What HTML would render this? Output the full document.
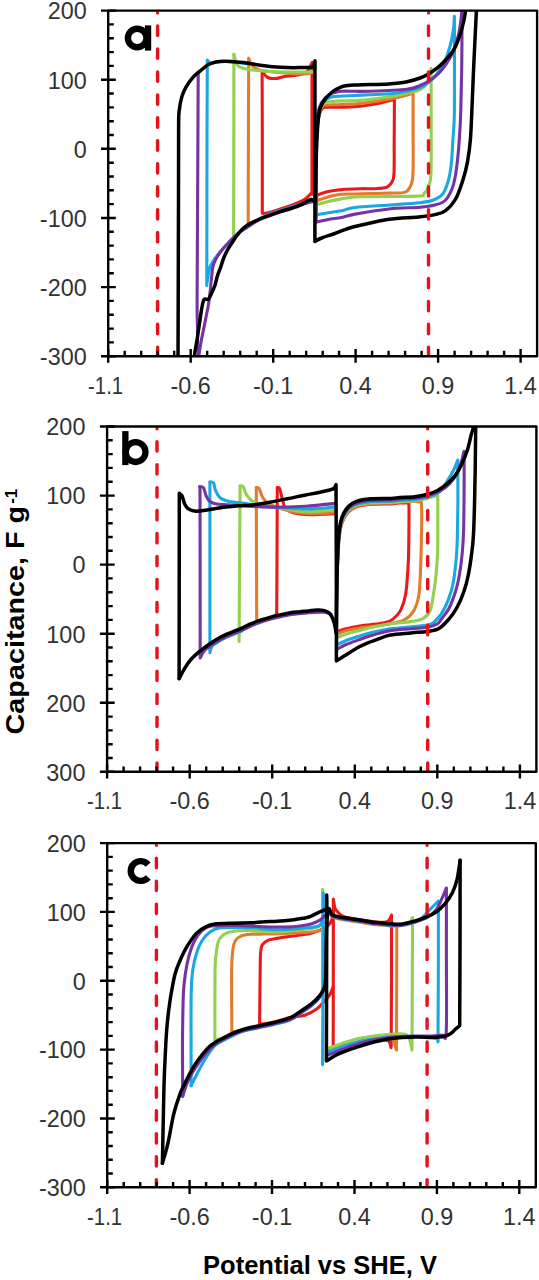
<!DOCTYPE html>
<html><head><meta charset="utf-8"><style>
html,body{margin:0;padding:0;background:#fff;}
svg{display:block;}
.t{font-family:"Liberation Sans",sans-serif;font-size:23.4px;fill:#333;}
.ttl{font-family:"Liberation Sans",sans-serif;font-size:25.5px;font-weight:bold;fill:#000;}
.lab{font-family:"Liberation Sans",sans-serif;font-size:46px;font-weight:bold;fill:#000;}
</style></head><body>
<svg width="539" height="1280" viewBox="0 0 539 1280">
<rect width="539" height="1280" fill="#fff"/>
<defs><clipPath id="cpa"><rect x="108.2" y="10.6" width="428.9" height="345.6"/></clipPath><clipPath id="cpb"><rect x="107.1" y="426.5" width="429.3" height="345.3"/></clipPath><clipPath id="cpc"><rect x="107.2" y="843.1" width="428.6" height="344.2"/></clipPath></defs>
<g clip-path="url(#cpa)">
<path d="M262.1,71.0C262.1,82.5 262.3,116.3 262.3,140.0C262.3,163.7 262.3,201.1 262.3,213.3C263.1,213.2 264.2,213.6 267.0,213.0C269.8,212.4 275.1,210.8 279.1,209.5C283.1,208.2 287.6,206.8 291.2,205.5C294.8,204.2 298.3,202.7 300.8,201.5C303.3,200.3 304.6,199.6 306.0,198.5C307.4,197.4 308.5,196.0 309.5,195.0C310.5,194.0 311.6,192.9 312.0,192.5" fill="none" stroke="#ea1a1a" stroke-width="3.1" stroke-linejoin="round" stroke-linecap="round"/>
<path d="M262.1,71.0C263.0,72.1 265.2,76.3 267.7,77.5C270.2,78.7 274.2,78.6 277.0,78.4C279.8,78.2 280.7,77.1 284.4,76.5C288.1,75.9 295.6,75.4 299.2,74.7C302.8,74.0 304.2,73.8 306.0,72.5C307.8,71.2 309.0,68.7 310.0,67.0C311.0,65.3 311.8,63.2 312.2,62.5C312.2,65.4 312.0,58.1 312.0,80.0C312.0,101.9 312.0,175.2 312.0,194.2" fill="none" stroke="#ea1a1a" stroke-width="3.1" stroke-linejoin="round" stroke-linecap="round"/>
<path d="M316.2,195.5C318.2,194.8 324.0,192.6 328.2,191.6C332.4,190.6 336.2,190.1 341.5,189.6C346.8,189.1 354.4,188.8 360.0,188.7C365.6,188.5 370.4,188.9 374.8,188.7C379.2,188.4 383.9,188.3 386.7,187.2C389.5,186.1 390.7,184.4 391.9,182.0C393.1,179.6 393.6,180.0 394.0,173.0C394.4,166.0 394.1,152.2 394.2,140.0C394.3,127.8 394.4,106.3 394.4,99.6C393.6,99.7 393.0,99.7 389.7,100.4C386.4,101.2 379.8,103.1 374.8,104.1C369.9,105.1 365.6,105.8 360.0,106.3C354.4,106.8 346.8,107.0 341.5,107.2C336.2,107.4 331.4,107.0 328.2,107.2C325.0,107.4 323.8,106.8 322.2,108.6C320.6,110.4 319.4,112.8 318.5,118.0C317.6,123.2 316.9,127.1 316.5,140.0C316.1,152.9 316.2,186.2 316.2,195.5" fill="none" stroke="#ea1a1a" stroke-width="3.1" stroke-linejoin="round" stroke-linecap="round"/>
<path d="M248.7,58.4C248.6,72.0 248.5,112.4 248.4,140.0C248.3,167.6 248.2,210.0 248.2,224.0" fill="none" stroke="#e27c2c" stroke-width="3.1" stroke-linejoin="round" stroke-linecap="round"/>
<path d="M248.7,58.4C249.1,59.3 249.9,62.4 251.0,64.0C252.1,65.6 252.7,66.8 255.0,68.0C257.3,69.2 259.2,70.1 265.0,71.0C270.8,71.9 283.3,73.0 290.0,73.5C296.7,74.0 301.3,74.2 305.0,74.0C308.7,73.8 310.8,72.3 312.0,72.0" fill="none" stroke="#e27c2c" stroke-width="3.1" stroke-linejoin="round" stroke-linecap="round"/>
<path d="M316.2,200.8C318.2,200.2 324.0,198.0 328.2,196.9C332.4,195.8 336.2,194.7 341.5,194.2C346.8,193.7 352.0,194.1 360.0,193.9C368.0,193.7 382.3,193.3 389.7,193.1C397.1,192.8 401.1,193.5 404.5,192.4C407.9,191.3 409.0,189.6 410.4,186.4C411.8,183.2 412.6,182.4 413.0,173.0C413.4,163.6 413.1,143.5 413.1,130.0C413.1,116.5 413.1,98.5 413.1,92.2C412.2,92.7 411.4,93.9 407.5,95.0C403.6,96.1 397.6,97.6 389.7,99.0C381.8,100.4 368.0,102.6 360.0,103.5C352.0,104.4 346.8,104.2 341.5,104.5C336.2,104.8 331.2,104.8 328.0,105.0C324.8,105.2 324.1,103.8 322.5,106.0C320.9,108.2 319.5,112.3 318.5,118.0C317.5,123.7 316.9,126.2 316.5,140.0C316.1,153.8 316.2,190.7 316.2,200.8" fill="none" stroke="#e27c2c" stroke-width="3.1" stroke-linejoin="round" stroke-linecap="round"/>
<path d="M233.9,54.3C233.9,68.6 233.9,109.7 233.8,140.0C233.8,170.3 233.6,220.0 233.6,236.0" fill="none" stroke="#92d050" stroke-width="3.1" stroke-linejoin="round" stroke-linecap="round"/>
<path d="M233.9,54.3C234.2,55.6 235.2,60.0 236.0,62.0C236.8,64.0 237.2,65.2 238.5,66.3C239.8,67.4 241.6,67.9 244.0,68.5C246.4,69.1 246.7,69.4 252.8,70.0C258.9,70.6 270.8,71.6 280.7,71.9C290.6,72.2 306.9,71.9 312.2,71.9" fill="none" stroke="#92d050" stroke-width="3.1" stroke-linejoin="round" stroke-linecap="round"/>
<path d="M316.2,204.8C318.2,204.2 324.0,202.5 328.2,201.5C332.4,200.5 336.2,199.7 341.5,198.9C346.8,198.1 347.5,197.3 360.0,196.8C372.5,196.3 405.8,196.6 416.4,196.1C427.0,195.6 421.7,195.8 423.8,193.9C425.9,192.1 427.8,188.5 429.0,185.0C430.2,181.5 430.6,182.2 431.0,173.0C431.4,163.8 431.2,147.5 431.2,130.0C431.2,112.5 431.1,78.5 431.1,68.2C430.8,69.8 430.5,75.0 429.5,78.0C428.5,81.0 426.9,83.9 425.0,86.0C423.1,88.1 420.9,89.3 418.0,90.5C415.1,91.7 412.2,92.0 407.5,93.0C402.8,94.0 397.6,95.5 389.7,96.7C381.8,97.9 369.1,99.7 360.0,100.4C350.9,101.2 340.9,100.6 334.8,101.2C328.7,101.8 326.3,101.1 323.6,103.9C320.9,106.7 319.7,112.0 318.5,118.0C317.3,124.0 316.9,125.5 316.5,140.0C316.1,154.5 316.2,194.0 316.2,204.8" fill="none" stroke="#92d050" stroke-width="3.1" stroke-linejoin="round" stroke-linecap="round"/>
<path d="M207.3,60.2C207.2,73.5 207.1,105.0 207.0,140.0C206.9,175.0 206.9,245.9 206.8,270.0C206.8,294.1 206.7,282.2 206.7,284.6C207.2,281.9 208.5,272.3 209.5,268.5C210.5,264.7 211.6,263.8 212.8,261.8C214.0,259.8 215.1,258.3 216.5,256.5C217.9,254.7 219.0,253.2 221.0,251.0C223.0,248.8 225.6,245.9 228.4,243.0C231.2,240.1 234.3,236.5 237.9,233.6C241.5,230.7 246.0,228.0 250.0,225.3C254.0,222.6 257.0,220.0 262.0,217.5C267.0,215.0 273.7,212.7 280.0,210.5C286.3,208.3 294.7,206.1 300.0,204.5C305.3,202.9 310.0,201.6 312.0,201.0" fill="none" stroke="#1aa8e2" stroke-width="3.1" stroke-linejoin="round" stroke-linecap="round"/>
<path d="M207.3,60.2C207.8,60.7 208.7,62.6 210.0,63.0C211.3,63.4 212.5,62.8 215.0,62.5C217.5,62.2 219.3,61.0 225.0,61.3C230.7,61.5 245.0,63.5 249.0,64.0" fill="none" stroke="#1aa8e2" stroke-width="3.1" stroke-linejoin="round" stroke-linecap="round"/>
<path d="M316.2,214.8C318.2,214.5 324.0,213.5 328.2,212.8C332.4,212.1 337.0,211.7 341.5,210.8C346.0,209.9 346.9,208.5 355.0,207.5C363.1,206.5 379.2,205.8 390.0,205.0C400.8,204.2 413.0,203.4 420.0,202.7C427.0,201.9 428.2,201.8 431.9,200.5C435.6,199.2 439.6,197.8 442.3,194.6C445.0,191.4 446.7,186.1 448.2,181.2C449.7,176.2 450.4,171.8 451.2,164.9C452.0,158.0 452.4,148.8 452.9,139.7C453.4,130.5 454.1,130.6 454.4,110.0C454.6,89.4 454.4,31.9 454.4,16.3C454.2,18.5 454.2,24.5 453.4,29.7C452.6,34.9 451.3,41.8 449.7,47.5C448.1,53.2 446.0,59.2 443.7,63.8C441.4,68.4 438.4,72.0 436.0,75.0C433.6,78.0 432.1,79.6 429.4,81.7C426.7,83.8 423.7,86.0 420.0,87.5C416.3,89.0 411.5,90.0 407.1,91.0C402.7,92.0 399.7,92.9 393.5,93.5C387.3,94.1 376.4,94.4 370.0,94.7C363.6,95.0 361.3,95.2 355.0,95.5C348.7,95.8 337.6,95.7 332.2,96.8C326.8,97.9 325.2,99.4 322.9,101.9C320.6,104.4 319.6,105.7 318.5,112.0C317.4,118.3 316.9,122.9 316.5,140.0C316.1,157.1 316.2,202.3 316.2,214.8" fill="none" stroke="#1aa8e2" stroke-width="3.1" stroke-linejoin="round" stroke-linecap="round"/>
<path d="M198.2,74.0C198.1,95.0 197.8,162.3 197.6,200.0C197.4,237.7 197.1,279.2 197.1,300.0C197.1,320.8 197.3,316.9 197.4,324.7C197.5,332.5 197.6,341.6 197.8,347.0C198.0,352.4 198.5,355.3 198.6,357.0" fill="none" stroke="#7434a4" stroke-width="3.1" stroke-linejoin="round" stroke-linecap="round"/>
<path d="M198.6,357.0C199.1,354.1 200.5,344.9 201.5,339.5C202.5,334.1 203.4,330.3 204.5,324.7C205.6,319.1 207.3,311.1 208.2,306.1C209.1,301.2 209.3,298.1 209.7,295.0C210.1,291.9 210.3,290.5 210.6,287.4C210.9,284.3 211.3,279.5 211.7,276.2C212.1,272.9 212.2,270.1 212.8,267.3C213.5,264.5 214.3,262.1 215.6,259.5C216.9,256.9 218.5,254.5 220.6,251.7C222.7,248.9 225.5,245.9 228.4,242.8C231.3,239.8 234.3,236.3 237.9,233.4C241.5,230.5 246.0,228.1 250.0,225.5C254.0,222.9 257.0,220.4 262.0,218.0C267.0,215.6 273.7,213.4 280.0,211.3C286.3,209.2 294.7,206.9 300.0,205.3C305.3,203.7 310.0,202.1 312.0,201.5" fill="none" stroke="#7434a4" stroke-width="3.1" stroke-linejoin="round" stroke-linecap="round"/>
<path d="M316.2,222.1C318.2,221.7 324.0,220.2 328.2,219.4C332.4,218.6 337.0,218.4 341.5,217.5C346.0,216.6 347.1,215.5 355.0,214.1C362.9,212.7 378.2,210.2 389.0,209.0C399.8,207.8 412.4,207.9 420.0,207.2C427.6,206.5 430.6,206.1 434.8,205.0C439.0,203.9 442.2,203.5 445.2,200.5C448.2,197.5 450.7,192.4 452.6,187.2C454.5,182.0 455.3,177.2 456.4,169.3C457.5,161.4 458.6,149.6 459.3,139.7C460.0,129.8 460.4,123.3 460.8,110.0C461.2,96.7 461.6,77.5 461.8,60.0C462.0,42.5 462.0,14.2 462.0,5.0" fill="none" stroke="#7434a4" stroke-width="3.1" stroke-linejoin="round" stroke-linecap="round"/>
<path d="M462.5,0.0C462.3,2.5 462.0,10.0 461.5,15.0C461.0,20.0 460.3,25.5 459.5,30.0C458.7,34.5 457.6,38.2 456.5,42.0C455.4,45.8 454.3,49.3 452.6,53.0C450.9,56.7 448.4,60.7 446.1,64.1C443.8,67.5 441.4,70.6 438.6,73.4C435.8,76.2 432.5,78.8 429.4,80.8C426.3,82.8 423.8,84.1 420.1,85.5C416.4,86.9 415.5,88.2 407.1,89.2C398.8,90.2 378.7,90.9 370.0,91.2C361.3,91.5 359.8,91.3 355.0,91.3C350.2,91.3 345.8,90.8 341.5,91.3C337.2,91.8 332.8,92.7 329.5,94.6C326.2,96.5 323.5,99.5 321.6,102.6C319.7,105.7 318.9,106.8 318.0,113.0C317.1,119.2 316.8,121.8 316.5,140.0C316.2,158.2 316.2,208.4 316.2,222.1" fill="none" stroke="#7434a4" stroke-width="3.1" stroke-linejoin="round" stroke-linecap="round"/>
<path d="M178.0,362.0C178.0,351.7 178.1,327.0 178.2,300.0C178.3,273.0 178.4,228.3 178.5,200.0C178.6,171.7 178.5,144.8 178.6,130.0C178.7,115.2 178.5,116.8 179.1,111.2C179.7,105.6 180.8,100.4 181.9,96.4C183.1,92.4 184.2,90.2 186.0,87.1C187.8,84.0 190.0,80.6 192.5,77.8C195.0,75.0 198.2,72.6 200.8,70.4C203.4,68.2 205.7,66.2 208.2,64.8C210.7,63.4 212.9,62.6 215.7,62.0C218.5,61.4 221.9,61.2 225.0,61.2C228.1,61.2 231.1,61.6 234.2,61.8C237.3,62.0 238.9,62.0 243.6,62.6C248.2,63.2 255.9,64.6 262.1,65.4C268.3,66.2 274.5,66.9 280.7,67.3C286.9,67.7 293.9,67.7 299.2,67.6C304.4,67.5 309.6,68.0 312.2,66.9C314.8,65.8 314.5,61.8 315.0,60.8C315.0,75.7 314.9,119.9 314.9,150.0C314.9,180.1 314.9,226.2 314.9,241.4C316.0,240.8 318.3,239.3 321.6,238.0C324.9,236.7 330.4,235.1 334.8,233.5C339.2,231.9 344.0,229.8 348.1,228.5C352.2,227.2 352.5,227.0 359.3,225.5C366.1,224.0 379.1,220.7 389.0,219.3C398.9,217.9 411.1,217.8 418.7,217.0C426.3,216.2 430.4,215.6 434.8,214.6C439.2,213.6 441.7,213.5 445.2,210.9C448.7,208.3 452.6,204.2 455.6,199.0C458.6,193.8 461.0,185.9 463.0,179.7C465.0,173.5 466.3,168.6 467.5,161.9C468.7,155.2 469.7,148.3 470.4,139.7C471.1,131.0 471.3,123.3 471.9,110.0C472.5,96.7 473.2,76.5 474.0,60.0C474.8,43.5 475.9,21.0 476.4,11.0C476.9,1.0 476.9,1.8 477.0,0.0" fill="none" stroke="#000000" stroke-width="3.5" stroke-linejoin="round" stroke-linecap="round"/>
<path d="M465.8,0.0C465.8,1.8 465.8,7.3 465.5,10.6C465.2,13.9 464.7,16.8 464.0,20.0C463.3,23.2 462.5,26.6 461.5,30.0C460.5,33.4 459.3,37.1 458.0,40.5C456.7,43.9 455.5,47.1 453.5,50.3C451.5,53.5 448.6,56.7 446.1,59.5C443.6,62.3 441.4,64.6 438.6,66.9C435.8,69.2 432.5,71.6 429.4,73.4C426.3,75.2 423.8,76.6 420.1,78.0C416.4,79.4 412.4,80.7 407.1,81.7C401.9,82.7 394.8,83.5 388.6,84.0C382.4,84.5 375.4,84.3 370.0,84.5C364.6,84.7 360.0,84.7 356.4,84.9C352.8,85.1 350.8,85.1 348.1,85.5C345.4,85.9 342.9,86.2 340.2,87.3C337.5,88.4 334.6,90.1 332.2,92.0C329.8,93.9 327.4,96.2 325.5,98.6C323.6,101.0 322.1,103.1 320.9,106.6C319.7,110.1 319.0,111.0 318.2,119.8C317.4,128.7 316.6,146.0 316.2,159.7C315.8,173.4 315.6,194.9 315.5,202.0C315.3,202.0 314.7,202.3 314.1,201.9C313.5,201.5 312.7,199.7 311.7,199.5C310.7,199.3 309.9,199.8 308.1,200.7C306.3,201.6 303.6,203.6 300.8,204.9C298.0,206.2 294.8,207.3 291.2,208.5C287.6,209.7 283.1,210.8 279.1,212.1C275.1,213.4 271.1,214.9 267.1,216.4C263.1,217.9 258.3,219.7 255.0,221.2C251.7,222.7 249.5,223.8 247.3,225.2C245.1,226.6 243.4,228.2 241.8,229.8C240.2,231.4 239.0,232.9 237.5,234.8C236.0,236.8 234.4,239.2 232.9,241.5C231.4,243.8 229.9,245.8 228.4,248.4C226.9,251.0 225.3,254.2 224.0,257.3C222.7,260.4 221.7,264.2 220.6,267.3C219.5,270.4 218.2,273.2 217.3,276.2C216.4,279.2 215.9,282.4 215.0,285.2C214.1,288.0 212.8,290.6 211.7,293.0C210.6,295.4 209.4,298.3 208.2,299.3C207.0,300.3 205.4,298.5 204.5,299.0C203.6,299.5 203.5,300.6 203.0,302.4C202.5,304.2 202.1,306.1 201.5,309.8C200.9,313.5 200.0,319.8 199.3,324.7C198.6,329.6 197.8,334.8 197.1,339.5C196.3,344.2 195.3,349.1 194.8,352.9C194.3,356.6 194.3,360.5 194.2,362.0" fill="none" stroke="#000000" stroke-width="3.5" stroke-linejoin="round" stroke-linecap="round"/>
</g>
<g clip-path="url(#cpb)">
<path d="M277.3,487.6C277.2,499.7 277.1,538.9 277.0,560.0C276.9,581.1 276.8,605.4 276.7,614.5" fill="none" stroke="#ea1a1a" stroke-width="3.1" stroke-linejoin="round" stroke-linecap="round"/>
<path d="M277.3,487.6C277.7,487.8 278.8,486.6 279.7,488.6C280.6,490.6 281.3,496.1 282.5,499.7C283.7,503.2 283.2,507.4 287.1,509.9C291.0,512.4 297.7,513.9 305.7,514.5C313.7,515.1 330.1,513.8 335.0,513.6" fill="none" stroke="#ea1a1a" stroke-width="3.1" stroke-linejoin="round" stroke-linecap="round"/>
<path d="M336.6,632.0C338.0,631.5 341.1,630.0 345.0,629.0C348.9,628.0 355.5,626.7 359.7,626.0C363.9,625.3 365.9,625.2 370.0,624.7C374.1,624.2 380.6,623.6 384.3,622.7C388.0,621.9 389.7,621.7 392.4,619.6C395.1,617.5 398.4,614.6 400.6,610.4C402.8,606.1 404.4,602.5 405.7,594.1C407.0,585.7 407.8,572.4 408.4,560.0C408.9,547.6 408.9,529.5 409.0,520.0C409.1,510.5 408.9,505.8 408.9,503.0C407.4,503.0 402.9,502.8 400.0,502.9C397.1,503.0 396.1,503.7 391.2,503.9C386.3,504.1 376.6,503.8 370.8,504.3C365.0,504.8 360.2,505.6 356.5,506.9C352.8,508.2 350.8,509.4 348.4,512.0C346.0,514.5 343.7,518.1 342.2,522.2C340.7,526.3 340.0,529.3 339.2,536.5C338.4,543.7 337.9,554.0 337.5,565.5C337.1,577.0 336.8,594.4 336.6,605.5C336.5,616.6 336.6,627.6 336.6,632.0" fill="none" stroke="#ea1a1a" stroke-width="3.1" stroke-linejoin="round" stroke-linecap="round"/>
<path d="M256.3,487.6C256.3,499.7 256.4,538.0 256.5,560.0C256.6,582.0 256.7,609.6 256.7,619.5" fill="none" stroke="#e27c2c" stroke-width="3.1" stroke-linejoin="round" stroke-linecap="round"/>
<path d="M256.3,487.6C256.8,487.8 258.0,486.9 259.1,488.6C260.2,490.3 261.3,495.3 262.8,497.8C264.3,500.3 265.4,501.6 268.3,503.4C271.2,505.2 273.8,506.8 280.0,508.5C286.2,510.2 296.5,512.8 305.7,513.5C314.9,514.2 330.1,512.7 335.0,512.5" fill="none" stroke="#e27c2c" stroke-width="3.1" stroke-linejoin="round" stroke-linecap="round"/>
<path d="M336.6,634.5C338.0,633.9 341.1,632.1 345.0,631.0C348.9,629.9 355.5,628.7 359.7,628.0C363.9,627.3 364.9,627.4 370.0,626.7C375.1,626.0 384.6,624.9 390.4,623.7C396.2,622.5 400.8,621.8 404.7,619.6C408.6,617.4 411.5,614.6 413.9,610.4C416.3,606.1 417.8,602.5 419.0,594.1C420.2,585.7 420.4,572.4 420.9,560.0C421.3,547.6 421.6,529.6 421.7,520.0C421.8,510.4 421.5,505.5 421.5,502.6C420.4,502.4 418.4,501.6 414.8,501.5C411.2,501.4 403.9,501.9 400.0,502.2C396.1,502.5 396.1,503.0 391.2,503.2C386.3,503.4 376.6,503.1 370.8,503.6C365.0,504.1 360.2,504.9 356.5,506.2C352.8,507.5 350.8,508.8 348.4,511.3C346.0,513.9 343.7,517.4 342.2,521.5C340.7,525.6 340.0,528.6 339.2,535.8C338.4,543.0 337.9,553.3 337.5,564.8C337.1,576.3 336.8,593.2 336.6,604.8C336.5,616.4 336.6,629.5 336.6,634.5" fill="none" stroke="#e27c2c" stroke-width="3.1" stroke-linejoin="round" stroke-linecap="round"/>
<path d="M240.1,485.8C240.0,498.2 239.8,534.0 239.6,560.0C239.4,586.0 239.2,627.9 239.1,641.5" fill="none" stroke="#92d050" stroke-width="3.1" stroke-linejoin="round" stroke-linecap="round"/>
<path d="M240.1,485.8C240.6,485.9 242.3,485.3 243.3,486.7C244.3,488.1 244.7,491.8 246.1,494.1C247.5,496.4 248.9,498.9 251.6,500.6C254.2,502.3 257.3,503.3 262.0,504.5C266.7,505.7 272.7,506.8 280.0,508.0C287.3,509.2 296.5,511.4 305.7,511.7C314.9,512.0 330.1,510.2 335.0,509.9" fill="none" stroke="#92d050" stroke-width="3.1" stroke-linejoin="round" stroke-linecap="round"/>
<path d="M336.6,638.0C338.0,637.4 341.1,635.8 345.0,634.5C348.9,633.2 355.5,631.6 359.7,630.5C363.9,629.4 364.9,628.9 370.0,627.8C375.1,626.7 383.6,624.7 390.4,623.7C397.2,622.7 405.4,622.5 410.8,621.6C416.2,620.8 419.9,620.5 423.1,618.6C426.3,616.7 428.4,615.0 430.2,610.4C432.0,605.8 432.9,597.2 433.9,591.2C434.9,585.2 435.5,581.0 436.1,574.5C436.7,568.0 437.3,559.7 437.6,552.3C437.9,544.9 437.8,539.5 437.8,530.0C437.8,520.5 437.8,501.0 437.8,495.2C435.9,495.8 430.5,497.6 426.7,498.5C422.9,499.4 419.2,500.2 414.8,500.7C410.4,501.2 403.9,501.1 400.0,501.4C396.1,501.7 396.1,502.2 391.2,502.4C386.3,502.6 376.6,502.3 370.8,502.8C365.0,503.3 360.2,504.1 356.5,505.4C352.8,506.7 350.8,507.9 348.4,510.5C346.0,513.0 343.7,516.6 342.2,520.7C340.7,524.8 340.0,527.8 339.2,535.0C338.4,542.2 337.9,552.5 337.5,564.0C337.1,575.5 336.8,591.7 336.6,604.0C336.5,616.3 336.6,632.3 336.6,638.0" fill="none" stroke="#92d050" stroke-width="3.1" stroke-linejoin="round" stroke-linecap="round"/>
<path d="M209.9,482.1C209.9,495.1 209.9,531.6 209.9,560.0C209.9,588.4 209.9,637.2 209.9,652.7C210.3,651.6 210.5,648.0 212.1,646.0C213.7,644.0 217.0,642.5 219.5,641.0C222.0,639.5 224.4,638.2 226.9,637.0C229.4,635.8 231.8,635.0 234.3,634.0C236.8,633.0 240.6,631.5 241.8,631.0" fill="none" stroke="#1aa8e2" stroke-width="3.1" stroke-linejoin="round" stroke-linecap="round"/>
<path d="M209.9,482.1C210.5,482.2 212.7,481.6 213.6,483.0C214.5,484.4 214.4,487.9 215.5,490.4C216.6,492.9 217.8,495.9 220.1,497.8C222.4,499.7 225.4,500.6 229.4,501.5C233.4,502.4 238.6,502.6 244.2,503.4C249.8,504.1 252.6,505.1 262.8,506.0C273.1,506.9 293.7,508.8 305.7,509.0C317.7,509.2 330.1,507.3 335.0,507.0" fill="none" stroke="#1aa8e2" stroke-width="3.1" stroke-linejoin="round" stroke-linecap="round"/>
<path d="M336.6,645.0C338.0,644.3 341.1,642.5 345.0,641.0C348.9,639.5 355.5,637.4 359.7,636.0C363.9,634.6 364.9,634.1 370.0,632.9C375.1,631.7 380.9,630.1 390.4,628.8C399.9,627.5 419.4,626.5 427.1,625.0C434.8,623.5 433.8,622.2 436.7,619.5C439.6,616.8 442.1,613.2 444.5,608.5C446.9,603.8 449.5,596.9 451.2,591.2C452.9,585.5 453.6,581.0 454.5,574.5C455.4,568.0 456.2,559.7 456.7,552.3C457.2,544.9 457.3,538.7 457.5,530.0C457.7,521.3 457.8,511.6 457.9,500.0C457.9,488.4 457.8,466.8 457.8,460.1C457.2,461.6 455.8,465.6 454.1,469.0C452.4,472.4 449.8,477.1 447.4,480.8C445.0,484.6 443.4,488.8 440.0,491.5C436.6,494.2 430.9,496.0 426.7,497.3C422.5,498.6 419.2,499.0 414.8,499.5C410.4,500.0 403.9,499.9 400.0,500.2C396.1,500.5 396.1,501.0 391.2,501.2C386.3,501.4 376.6,501.1 370.8,501.6C365.0,502.1 360.2,502.9 356.5,504.2C352.8,505.5 350.8,506.8 348.4,509.3C346.0,511.9 343.7,515.4 342.2,519.5C340.7,523.6 340.0,526.6 339.2,533.8C338.4,541.0 337.9,551.3 337.5,562.8C337.1,574.3 336.8,589.1 336.6,602.8C336.5,616.5 336.6,638.0 336.6,645.0" fill="none" stroke="#1aa8e2" stroke-width="3.1" stroke-linejoin="round" stroke-linecap="round"/>
<path d="M200.0,486.7C200.0,498.9 200.1,531.5 200.1,560.0C200.1,588.5 200.2,641.6 200.2,657.9C200.9,656.6 202.7,652.5 204.7,650.3C206.7,648.1 209.6,646.5 212.1,644.8C214.6,643.1 217.0,641.6 219.5,640.2C222.0,638.8 224.4,637.5 226.9,636.4C229.4,635.3 231.8,634.4 234.3,633.4C236.8,632.4 237.8,632.1 241.8,630.4C245.8,628.7 252.8,625.1 258.3,623.0C263.8,620.9 269.4,619.4 275.0,618.0C280.6,616.6 286.1,615.4 291.7,614.5C297.3,613.6 303.1,613.2 308.4,612.8C313.7,612.4 319.7,612.1 323.5,612.3C327.3,612.5 329.8,613.7 331.0,614.0" fill="none" stroke="#7434a4" stroke-width="3.1" stroke-linejoin="round" stroke-linecap="round"/>
<path d="M199.7,486.7C200.3,486.9 202.3,486.1 203.4,487.6C204.5,489.2 205.1,493.7 206.2,496.0C207.3,498.3 207.9,500.1 209.9,501.5C211.9,502.9 214.0,503.7 218.2,504.3C222.4,504.9 226.6,504.8 234.9,505.3C243.2,505.8 256.5,507.0 268.3,507.1C280.1,507.2 294.6,506.8 305.7,506.2C316.8,505.6 330.1,503.9 335.0,503.4" fill="none" stroke="#7434a4" stroke-width="3.1" stroke-linejoin="round" stroke-linecap="round"/>
<path d="M336.6,649.5C338.0,648.8 341.1,646.7 345.0,645.0C348.9,643.3 355.5,641.0 359.7,639.5C363.9,638.0 364.9,637.4 370.0,635.9C375.1,634.4 383.6,632.0 390.4,630.8C397.2,629.6 404.7,629.4 410.8,628.8C416.9,628.2 422.7,628.1 427.1,627.3C431.5,626.5 435.0,625.3 437.3,624.0C439.6,622.7 439.2,622.1 441.1,619.5C443.0,616.9 446.5,613.2 448.9,608.5C451.3,603.8 453.8,596.9 455.6,591.2C457.4,585.5 458.4,581.0 459.5,574.5C460.6,568.0 461.6,559.7 462.3,552.3C463.0,544.9 463.3,540.4 463.6,530.0C463.9,519.6 464.0,503.1 464.1,490.0C464.2,476.9 464.1,457.7 464.1,451.2C463.2,454.4 461.0,465.0 458.6,470.4C456.2,475.8 452.8,480.4 449.7,483.8C446.6,487.2 443.8,488.9 440.0,491.0C436.2,493.1 430.9,494.9 426.7,496.1C422.5,497.3 419.2,497.8 414.8,498.3C410.4,498.8 403.9,498.7 400.0,499.0C396.1,499.3 396.1,499.8 391.2,500.0C386.3,500.2 376.6,499.9 370.8,500.4C365.0,500.9 360.2,501.7 356.5,503.0C352.8,504.3 350.8,505.6 348.4,508.1C346.0,510.7 343.7,514.2 342.2,518.3C340.7,522.4 340.0,525.4 339.2,532.6C338.4,539.8 337.9,550.1 337.5,561.6C337.1,573.1 336.8,587.0 336.6,601.6C336.5,616.2 336.6,641.5 336.6,649.5" fill="none" stroke="#7434a4" stroke-width="3.1" stroke-linejoin="round" stroke-linecap="round"/>
<path d="M179.1,678.5C179.1,665.4 179.2,630.9 179.2,600.0C179.2,569.1 179.3,511.0 179.3,493.2C179.8,493.7 181.2,494.1 182.1,496.0C183.0,497.9 183.7,502.1 184.8,504.3C185.9,506.5 186.7,507.9 188.6,509.0C190.5,510.1 192.9,511.1 196.0,511.2C199.1,511.3 202.2,510.6 207.1,509.9C212.0,509.2 219.5,507.8 225.7,507.1C231.9,506.4 240.1,505.9 244.2,505.6C248.2,505.3 245.9,505.8 250.0,505.3C254.1,504.8 262.4,503.6 268.6,502.5C274.8,501.4 280.9,500.1 287.1,498.8C293.3,497.6 299.5,496.2 305.7,495.0C311.9,493.8 319.6,492.4 324.2,491.3C328.8,490.2 331.5,489.7 333.5,488.6C335.5,487.5 335.6,485.3 336.0,484.6C336.1,497.2 336.2,530.6 336.3,560.0C336.4,589.4 336.4,644.1 336.4,660.9C337.8,660.0 340.7,658.1 344.5,655.7C348.3,653.4 355.1,649.1 359.3,646.8C363.6,644.5 366.5,643.4 370.0,642.0C373.5,640.6 376.8,639.5 380.2,638.3C383.6,637.1 385.3,635.9 390.4,635.0C395.5,634.1 404.7,633.5 410.8,632.9C416.9,632.3 422.4,632.2 427.1,631.5C431.8,630.8 435.3,630.7 438.9,628.6C442.5,626.5 445.9,622.5 448.9,619.1C451.9,615.7 454.2,612.6 456.7,608.0C459.2,603.4 462.1,596.8 464.0,591.2C465.9,585.6 467.1,581.0 468.4,574.5C469.7,568.0 470.9,559.7 471.8,552.3C472.7,544.9 473.1,543.7 473.7,530.0C474.3,516.3 474.9,487.2 475.2,470.0C475.5,452.8 475.6,436.2 475.7,427.0C475.8,417.8 475.9,417.0 476.0,415.0" fill="none" stroke="#000000" stroke-width="3.5" stroke-linejoin="round" stroke-linecap="round"/>
<path d="M474.0,415.0C473.9,417.0 473.9,423.7 473.4,427.0C472.9,430.3 472.2,431.0 471.2,434.8C470.2,438.6 469.1,444.8 467.5,449.7C465.9,454.6 463.6,460.1 461.5,464.5C459.4,468.9 457.2,472.8 454.9,475.9C452.6,479.0 450.5,480.9 447.5,483.4C444.5,485.9 440.6,488.9 437.1,490.8C433.6,492.7 430.4,493.5 426.7,494.5C423.0,495.5 419.2,496.2 414.8,496.7C410.4,497.2 403.9,497.1 400.0,497.4C396.1,497.7 396.1,498.2 391.2,498.4C386.3,498.6 376.6,498.3 370.8,498.8C365.0,499.3 360.2,500.1 356.5,501.4C352.8,502.7 350.8,503.9 348.4,506.5C346.0,509.1 343.7,512.6 342.2,516.7C340.7,520.8 340.0,523.8 339.2,531.0C338.4,538.2 337.9,548.5 337.5,560.0C337.1,571.5 336.8,587.8 336.6,600.0C336.4,612.2 336.3,627.8 336.2,633.4C335.9,631.7 335.0,626.2 334.3,623.4C333.6,620.6 332.8,618.5 331.8,616.7C330.8,614.9 329.9,613.5 328.5,612.5C327.1,611.5 325.4,610.8 323.5,610.4C321.6,610.0 319.3,609.9 316.8,610.0C314.3,610.1 311.2,610.6 308.4,610.9C305.6,611.2 302.9,611.4 300.1,611.7C297.3,612.0 294.5,612.1 291.7,612.5C288.9,612.9 286.2,613.6 283.4,614.2C280.6,614.8 277.8,615.2 275.0,615.9C272.2,616.6 269.5,617.6 266.7,618.4C263.9,619.2 261.1,619.9 258.3,620.9C255.5,621.9 252.8,623.0 250.0,624.2C247.2,625.4 244.4,627.0 241.8,628.2C239.2,629.4 236.8,630.2 234.3,631.2C231.8,632.2 229.4,633.0 226.9,634.1C224.4,635.2 222.0,636.4 219.5,637.8C217.0,639.2 214.6,640.7 212.1,642.3C209.6,643.9 207.2,645.6 204.7,647.5C202.2,649.4 199.8,651.2 197.3,653.4C194.8,655.6 192.0,658.1 189.8,660.8C187.6,663.5 185.7,666.7 183.9,669.7C182.1,672.7 180.0,677.1 179.2,678.6" fill="none" stroke="#000000" stroke-width="3.5" stroke-linejoin="round" stroke-linecap="round"/>
</g>
<g clip-path="url(#cpc)">
<path d="M259.6,1024.5C259.7,1013.8 260.1,972.4 260.3,960.0C260.5,947.6 260.7,952.5 261.0,950.0C261.3,947.5 261.2,946.5 262.3,944.9C263.4,943.3 265.3,941.4 267.8,940.3C270.3,939.2 272.5,939.2 277.1,938.4C281.8,937.6 290.2,936.5 295.7,935.7C301.2,934.9 305.9,934.3 310.0,933.4C314.1,932.5 316.9,931.5 320.0,930.1C323.1,928.7 326.4,926.8 328.4,925.1C330.3,923.4 330.9,922.3 331.7,920.1C332.5,917.9 333.1,915.5 333.4,912.0C333.7,908.5 333.4,901.3 333.4,899.2C333.7,900.7 334.2,906.2 335.0,908.4C335.8,910.6 337.0,911.2 338.4,912.6C339.8,914.0 339.8,915.3 343.4,916.5C347.0,917.7 354.4,918.9 360.0,919.8C365.6,920.7 372.5,921.6 376.8,922.0C381.1,922.4 383.9,922.4 386.0,922.0C388.1,921.6 388.6,920.6 389.5,919.5C390.4,918.4 391.2,915.8 391.5,915.1C391.5,925.9 391.6,959.2 391.5,980.0C391.4,1000.8 391.3,1028.7 391.2,1040.0C391.1,1051.3 391.0,1046.3 391.0,1047.6C390.5,1046.4 390.6,1041.6 388.0,1040.5C385.4,1039.4 380.0,1040.3 375.1,1041.0C370.2,1041.7 364.0,1043.2 358.4,1044.5C352.8,1045.8 345.8,1047.8 341.7,1049.0C337.6,1050.2 335.3,1051.5 334.0,1052.0" fill="none" stroke="#ea1a1a" stroke-width="3.1" stroke-linejoin="round" stroke-linecap="round"/>
<path d="M333.4,899.2C333.4,912.7 333.3,955.5 333.3,980.0C333.3,1004.5 333.2,1034.9 333.2,1045.9" fill="none" stroke="#ea1a1a" stroke-width="3.1" stroke-linejoin="round" stroke-linecap="round"/>
<path d="M259.6,1024.5C262.0,1024.1 268.8,1023.2 273.9,1022.0C279.0,1020.8 284.9,1018.6 290.0,1017.5C295.1,1016.4 300.4,1016.6 304.8,1015.2C309.2,1013.8 313.5,1011.3 316.7,1009.0C319.9,1006.7 321.9,1004.0 324.1,1001.5C326.3,999.0 328.6,996.6 330.1,994.1C331.6,991.6 332.8,987.9 333.3,986.7" fill="none" stroke="#ea1a1a" stroke-width="3.1" stroke-linejoin="round" stroke-linecap="round"/>
<path d="M231.9,1032.3C231.8,1022.6 231.5,987.6 231.6,974.2C231.7,960.8 232.0,957.5 232.6,951.9C233.2,946.3 233.9,943.4 235.3,940.8C236.7,938.2 238.5,937.3 240.9,936.2C243.3,935.1 246.8,934.6 250.0,934.3C253.2,933.9 255.5,934.2 260.0,934.1C264.5,934.0 268.7,934.1 277.0,933.8C285.3,933.4 302.5,932.6 310.0,932.0C317.5,931.4 320.0,930.3 322.0,930.0" fill="none" stroke="#e27c2c" stroke-width="3.1" stroke-linejoin="round" stroke-linecap="round"/>
<path d="M231.9,1032.3C233.9,1031.9 239.1,1031.0 243.8,1030.0C248.5,1029.0 255.0,1027.6 260.0,1026.5C265.0,1025.4 271.6,1024.0 273.9,1023.5" fill="none" stroke="#e27c2c" stroke-width="3.1" stroke-linejoin="round" stroke-linecap="round"/>
<path d="M328.0,911.0C328.6,911.9 330.5,915.2 331.7,916.4C332.9,917.6 333.1,917.5 335.0,918.1C336.9,918.7 339.2,919.1 343.4,919.8C347.6,920.5 354.5,921.5 360.1,922.3C365.7,923.1 371.8,924.2 376.8,924.8C381.8,925.4 386.8,925.7 390.1,925.9C393.4,926.1 395.7,926.0 396.8,926.0C396.8,935.0 396.8,959.3 396.7,980.0C396.6,1000.7 396.5,1038.4 396.5,1050.1C396.1,1048.8 394.8,1043.8 394.0,1042.0C393.2,1040.2 394.9,1039.5 391.8,1039.0C388.7,1038.5 380.7,1038.3 375.1,1038.8C369.5,1039.3 364.0,1040.5 358.4,1041.8C352.8,1043.1 346.8,1045.0 341.7,1046.5C336.6,1048.0 330.3,1050.2 328.0,1051.0" fill="none" stroke="#e27c2c" stroke-width="3.1" stroke-linejoin="round" stroke-linecap="round"/>
<path d="M214.9,1039.7C214.9,1028.8 214.8,988.2 215.0,974.2C215.2,960.2 215.3,961.3 215.9,955.7C216.5,950.1 217.2,944.4 218.6,940.8C220.0,937.2 221.7,935.9 224.2,934.3C226.7,932.7 229.2,931.8 233.5,931.2C237.8,930.6 242.8,930.5 250.0,930.6C257.2,930.7 267.0,932.4 277.0,932.0C287.0,931.6 302.8,929.4 310.0,928.4C317.2,927.4 317.9,927.3 320.0,925.9C322.1,924.5 322.1,926.1 322.5,920.0C322.9,913.9 322.5,894.3 322.5,889.2L322.6,990.0" fill="none" stroke="#92d050" stroke-width="3.1" stroke-linejoin="round" stroke-linecap="round"/>
<path d="M214.9,1039.7C216.5,1039.4 221.7,1038.8 224.5,1038.0C227.3,1037.2 228.7,1036.2 231.9,1035.0C235.1,1033.8 239.1,1031.8 243.8,1030.5C248.5,1029.2 257.3,1027.6 260.0,1027.0" fill="none" stroke="#92d050" stroke-width="3.1" stroke-linejoin="round" stroke-linecap="round"/>
<path d="M328.0,911.0C328.6,911.8 330.5,914.6 331.7,915.7C332.9,916.8 333.1,916.8 335.0,917.4C336.9,918.0 339.2,918.4 343.4,919.1C347.6,919.8 354.5,920.8 360.1,921.6C365.7,922.4 371.8,923.5 376.8,924.1C381.8,924.7 386.2,924.9 390.1,925.2C394.0,925.5 396.9,926.0 400.0,925.7C403.1,925.4 406.9,924.8 409.0,923.5C411.1,922.2 411.9,918.7 412.5,917.7C412.5,928.1 412.4,957.9 412.3,980.0C412.2,1002.1 412.1,1038.4 412.0,1050.1C411.6,1048.2 410.7,1041.7 409.5,1039.0C408.3,1036.3 407.6,1035.0 404.6,1034.2C401.7,1033.4 396.7,1033.9 391.8,1034.2C386.9,1034.5 380.7,1035.2 375.1,1035.9C369.5,1036.6 364.0,1037.2 358.4,1038.4C352.8,1039.7 346.8,1041.7 341.7,1043.4C336.6,1045.1 330.3,1047.6 328.0,1048.4" fill="none" stroke="#92d050" stroke-width="3.1" stroke-linejoin="round" stroke-linecap="round"/>
<path d="M191.1,1085.7C191.1,1079.8 191.1,1065.5 191.1,1050.0C191.1,1034.5 190.9,1006.0 191.2,992.8C191.5,979.5 191.8,977.0 192.7,970.5C193.6,964.0 194.8,958.8 196.4,953.8C198.0,948.8 199.8,944.3 202.0,940.8C204.2,937.2 206.3,934.7 209.4,932.5C212.5,930.3 213.7,928.6 220.5,927.8C227.3,927.0 240.6,927.5 250.0,927.8C259.4,928.1 267.0,929.8 277.0,929.7C287.0,929.7 302.8,928.3 310.0,927.5C317.2,926.7 317.8,927.1 320.0,925.0C322.2,922.9 322.8,920.3 323.4,915.0C324.0,909.7 323.4,896.7 323.4,893.0C323.4,904.2 323.3,931.4 323.2,960.0C323.1,988.6 322.6,1047.2 322.5,1064.6" fill="none" stroke="#1aa8e2" stroke-width="3.1" stroke-linejoin="round" stroke-linecap="round"/>
<path d="M191.1,1085.7C192.2,1083.5 195.5,1076.8 197.8,1072.3C200.2,1067.8 203.0,1062.7 205.2,1059.0C207.4,1055.3 209.2,1052.5 211.2,1050.0C213.2,1047.5 213.6,1046.3 217.1,1044.0C220.6,1041.7 227.4,1038.2 231.9,1036.0C236.4,1033.8 239.1,1032.4 243.8,1031.0C248.5,1029.6 255.0,1028.6 260.0,1027.5C265.0,1026.4 268.9,1025.8 273.9,1024.5C278.9,1023.2 285.3,1022.0 290.0,1020.0C294.7,1018.0 298.2,1015.0 301.9,1012.5C305.6,1010.0 309.3,1007.5 312.3,1005.0C315.3,1002.5 318.0,1000.0 319.7,997.5C321.4,995.0 322.0,991.2 322.5,990.0" fill="none" stroke="#1aa8e2" stroke-width="3.1" stroke-linejoin="round" stroke-linecap="round"/>
<path d="M328.0,910.0C328.6,910.9 330.5,914.4 331.7,915.6C332.9,916.8 333.1,916.7 335.0,917.3C336.9,917.9 339.2,918.3 343.4,919.0C347.6,919.7 354.5,920.7 360.1,921.5C365.7,922.3 371.8,923.4 376.8,924.0C381.8,924.6 386.2,924.8 390.1,925.1C394.0,925.4 396.1,926.0 400.0,925.6C403.9,925.2 409.7,924.1 413.4,922.8C417.1,921.5 419.2,920.2 422.0,918.0C424.8,915.8 427.4,912.2 430.1,909.4C432.8,906.6 437.0,902.4 438.4,901.0C438.4,914.2 438.4,956.5 438.3,980.0C438.2,1003.5 438.1,1031.5 438.0,1041.8C437.7,1041.2 439.0,1039.4 436.0,1038.5C433.0,1037.6 427.4,1036.8 420.0,1036.5C412.6,1036.2 399.3,1036.4 391.8,1036.8C384.3,1037.2 380.7,1038.0 375.1,1038.8C369.5,1039.6 364.0,1040.3 358.4,1041.7C352.8,1043.1 346.8,1045.3 341.7,1047.0C336.6,1048.7 330.3,1051.2 328.0,1052.0" fill="none" stroke="#1aa8e2" stroke-width="3.1" stroke-linejoin="round" stroke-linecap="round"/>
<path d="M182.7,1096.3C182.7,1090.2 182.5,1071.0 182.5,1060.0C182.5,1049.0 182.4,1041.2 182.6,1030.0C182.8,1018.8 182.9,1002.1 183.4,992.8C183.9,983.5 184.4,980.4 185.3,974.2C186.2,968.0 187.5,961.3 189.0,955.7C190.5,950.1 192.3,945.0 194.5,940.8C196.7,936.6 199.2,933.1 202.0,930.6C204.8,928.1 205.8,926.9 211.2,926.0C216.6,925.1 226.3,925.4 234.2,925.5C242.1,925.6 251.5,926.2 258.6,926.5C265.8,926.8 270.9,927.0 277.1,927.0C283.3,927.0 290.2,927.0 295.7,926.5C301.2,926.0 305.9,925.3 310.0,924.2C314.1,923.1 317.7,921.5 320.0,920.1C322.3,918.7 323.3,916.7 324.0,916.0" fill="none" stroke="#7434a4" stroke-width="3.1" stroke-linejoin="round" stroke-linecap="round"/>
<path d="M182.7,1096.3C183.2,1094.6 184.8,1089.2 186.0,1086.0C187.2,1082.8 188.3,1080.2 190.0,1077.0C191.7,1073.8 193.8,1070.3 196.0,1067.0C198.2,1063.7 200.7,1060.0 203.0,1057.0C205.3,1054.0 207.7,1051.3 210.0,1049.0C212.3,1046.7 213.4,1045.3 217.1,1043.0C220.8,1040.7 227.4,1037.1 231.9,1035.0C236.4,1032.9 239.1,1031.8 243.8,1030.5C248.5,1029.2 252.3,1028.8 260.0,1027.0C267.7,1025.2 283.0,1022.0 290.0,1019.5C297.0,1017.0 298.2,1014.5 301.9,1012.0C305.6,1009.5 309.3,1007.0 312.3,1004.5C315.3,1002.0 317.8,999.6 319.7,997.0C321.6,994.4 323.3,990.3 324.0,989.0" fill="none" stroke="#7434a4" stroke-width="3.1" stroke-linejoin="round" stroke-linecap="round"/>
<path d="M328.0,909.5C328.6,910.5 330.5,914.1 331.7,915.4C332.9,916.7 333.1,916.5 335.0,917.1C336.9,917.7 339.2,918.1 343.4,918.8C347.6,919.5 354.5,920.5 360.1,921.3C365.7,922.1 371.8,923.2 376.8,923.8C381.8,924.4 386.2,924.6 390.1,924.9C394.0,925.2 396.1,925.8 400.0,925.4C403.9,925.0 409.0,923.8 413.4,922.6C417.8,921.4 422.7,920.0 426.4,918.0C430.1,916.0 433.2,913.5 435.7,910.5C438.2,907.5 439.4,903.9 441.2,900.1C443.0,896.4 445.5,890.0 446.4,888.0C446.4,900.0 446.4,936.0 446.4,960.0C446.4,984.0 446.9,1019.8 446.2,1032.3C445.5,1044.8 444.8,1034.4 442.3,1035.0C439.8,1035.6 435.6,1035.8 431.0,1036.0C426.4,1036.2 421.5,1035.8 415.0,1036.0C408.5,1036.2 398.4,1036.6 391.8,1037.2C385.2,1037.8 380.7,1038.4 375.1,1039.5C369.5,1040.6 364.0,1042.0 358.4,1043.7C352.8,1045.4 346.8,1047.7 341.7,1049.6C336.6,1051.5 330.3,1054.1 328.0,1055.0" fill="none" stroke="#7434a4" stroke-width="3.1" stroke-linejoin="round" stroke-linecap="round"/>
<path d="M162.4,1163.3C162.5,1159.2 162.6,1151.5 162.9,1138.6C163.2,1125.7 163.6,1100.5 164.0,1085.7C164.4,1070.9 165.1,1059.3 165.5,1050.0C165.9,1040.7 166.2,1036.4 166.7,1029.9C167.2,1023.5 167.8,1017.5 168.6,1011.3C169.4,1005.1 170.2,999.0 171.3,992.8C172.4,986.6 173.6,979.5 175.0,974.2C176.4,968.9 177.7,965.8 179.7,961.2C181.7,956.6 184.3,951.0 187.1,946.4C189.9,941.8 193.3,936.6 196.4,933.4C199.5,930.1 202.6,928.4 205.7,926.9C208.8,925.4 210.3,924.7 214.9,924.1C219.5,923.5 227.5,923.4 233.5,923.2C239.5,923.0 246.0,923.0 251.1,922.8C256.2,922.6 259.8,922.0 264.1,921.8C268.4,921.5 272.5,921.6 277.1,921.3C281.7,921.0 287.3,920.5 291.9,920.0C296.5,919.5 301.9,918.5 304.9,918.0C307.9,917.5 307.8,917.6 310.0,916.7C312.2,915.8 315.9,913.7 318.3,912.6C320.7,911.5 322.8,910.9 324.2,910.0C325.6,909.1 326.3,910.0 326.7,907.5C327.1,905.0 326.7,897.1 326.7,895.0C326.7,909.2 326.7,952.3 326.6,980.0C326.6,1007.7 326.4,1047.5 326.4,1061.0C327.8,1060.2 331.9,1057.4 334.5,1056.0C337.1,1054.6 337.7,1054.1 341.7,1052.6C345.7,1051.0 352.8,1048.5 358.4,1046.7C364.0,1044.9 369.5,1043.1 375.1,1041.7C380.7,1040.3 385.2,1039.2 391.8,1038.4C398.4,1037.6 408.4,1037.1 415.0,1036.9C421.6,1036.8 426.6,1037.5 431.1,1037.5C435.7,1037.5 439.5,1037.2 442.3,1036.8C445.1,1036.4 446.1,1035.8 447.8,1035.1C449.5,1034.3 451.0,1033.3 452.3,1032.3C453.6,1031.3 454.4,1030.1 455.6,1029.0C456.8,1027.9 459.0,1026.2 459.7,1025.6C459.8,1013.0 459.9,977.6 460.0,950.0C460.1,922.4 460.1,875.2 460.1,860.2" fill="none" stroke="#000000" stroke-width="3.5" stroke-linejoin="round" stroke-linecap="round"/>
<path d="M460.1,860.2C460.1,860.7 460.3,859.8 459.8,863.0C459.3,866.2 458.2,874.8 457.0,879.7C455.8,884.7 454.4,888.7 452.4,892.7C450.4,896.7 447.7,900.5 444.9,903.8C442.1,907.0 438.8,910.0 435.7,912.2C432.6,914.4 430.1,915.3 426.4,916.8C422.7,918.3 417.8,920.2 413.4,921.4C409.0,922.6 403.9,923.8 400.0,924.2C396.1,924.6 394.0,924.0 390.1,923.7C386.2,923.4 381.8,923.2 376.8,922.6C371.8,922.0 365.7,920.9 360.1,920.1C354.5,919.3 347.6,918.3 343.4,917.6C339.2,916.9 336.9,916.5 335.0,915.9C333.1,915.3 332.8,915.3 331.7,914.2C330.6,913.1 329.3,906.6 328.4,909.2C327.5,911.8 327.0,918.6 326.5,930.0C326.0,941.4 326.0,968.1 325.6,977.8C325.2,987.5 325.1,985.2 324.1,988.2C323.1,991.2 321.7,993.1 319.7,995.6C317.7,998.1 315.3,1000.5 312.3,1003.0C309.3,1005.5 305.6,1007.9 301.9,1010.4C298.2,1012.9 294.7,1015.9 290.0,1017.9C285.3,1019.9 278.9,1021.2 273.9,1022.5C268.9,1023.8 265.0,1024.5 260.0,1025.6C255.0,1026.7 248.5,1027.9 243.8,1029.3C239.1,1030.7 235.1,1032.3 231.9,1033.7C228.7,1035.1 227.0,1036.2 224.5,1037.4C222.0,1038.7 219.6,1039.7 217.1,1041.2C214.6,1042.7 212.2,1044.2 209.7,1046.4C207.2,1048.6 204.8,1051.4 202.3,1054.5C199.8,1057.6 197.0,1061.4 194.8,1064.9C192.6,1068.4 190.9,1071.6 188.9,1075.3C186.9,1079.0 184.5,1083.9 183.0,1087.2C181.5,1090.5 181.2,1090.4 179.7,1094.9C178.1,1099.4 175.7,1106.0 173.7,1114.2C171.7,1122.4 169.7,1135.7 167.8,1143.9C165.9,1152.1 163.3,1160.1 162.4,1163.3" fill="none" stroke="#000000" stroke-width="3.5" stroke-linejoin="round" stroke-linecap="round"/>
</g>
<path d="M157.6,12.9V12.9M157.6,26.0V35.4M157.6,49.0V58.3M157.6,71.9V81.3M157.6,94.9V104.2M157.6,117.8V127.2M157.6,140.8V150.2M157.6,163.7V173.1M157.6,186.6V196.1M157.6,209.6V219.0M157.6,232.5V241.9M157.6,255.5V264.9M157.6,278.4V287.8M157.6,301.4V310.8M157.6,324.3V333.7M157.6,347.3V354.5" stroke="#e8101a" stroke-width="3.4" stroke-linecap="round" fill="none"/>
<path d="M428.5,12.9V12.9M428.5,26.0V35.4M428.5,49.0V58.3M428.5,71.9V81.3M428.5,94.9V104.2M428.5,117.8V127.2M428.5,140.8V150.2M428.5,163.7V173.1M428.5,186.6V196.1M428.5,209.6V219.0M428.5,232.5V241.9M428.5,255.5V264.9M428.5,278.4V287.8M428.5,301.4V310.8M428.5,324.3V333.7M428.5,347.3V354.5" stroke="#e8101a" stroke-width="3.4" stroke-linecap="round" fill="none"/>
<path d="M157.0,428.7V428.7M157.0,441.7V451.1M157.0,464.6V474.1M157.0,487.6V497.0M157.0,510.5V519.9M157.0,533.5V542.9M157.0,556.5V565.8M157.0,579.4V588.8M157.0,602.4V611.8M157.0,625.3V634.7M157.0,648.3V657.7M157.0,671.2V680.6M157.0,694.2V703.6M157.0,717.1V726.5M157.0,740.1V749.5M157.0,763.0V770.1" stroke="#e8101a" stroke-width="3.4" stroke-linecap="round" fill="none"/>
<path d="M427.7,428.7V428.7M427.7,441.7V451.1M427.7,464.6V474.1M427.7,487.6V497.0M427.7,510.5V519.9M427.7,533.5V542.9M427.7,556.5V565.8M427.7,579.4V588.8M427.7,602.4V611.8M427.7,625.3V634.7M427.7,648.3V657.7M427.7,671.2V680.6M427.7,694.2V703.6M427.7,717.1V726.5M427.7,740.1V749.5M427.7,763.0V770.1" stroke="#e8101a" stroke-width="3.4" stroke-linecap="round" fill="none"/>
<path d="M156.4,845.3V845.3M156.4,858.3V867.7M156.4,881.3V890.6M156.4,904.2V913.6M156.4,927.2V936.6M156.4,950.1V959.5M156.4,973.1V982.5M156.4,996.0V1005.4M156.4,1019.0V1028.4M156.4,1041.9V1051.3M156.4,1064.9V1074.3M156.4,1087.8V1097.2M156.4,1110.8V1120.2M156.4,1133.7V1143.1M156.4,1156.7V1166.1M156.4,1179.6V1185.6" stroke="#e8101a" stroke-width="3.4" stroke-linecap="round" fill="none"/>
<path d="M427.1,845.3V845.3M427.1,858.3V867.7M427.1,881.3V890.6M427.1,904.2V913.6M427.1,927.2V936.6M427.1,950.1V959.5M427.1,973.1V982.5M427.1,996.0V1005.4M427.1,1019.0V1028.4M427.1,1041.9V1051.3M427.1,1064.9V1074.3M427.1,1087.8V1097.2M427.1,1110.8V1120.2M427.1,1133.7V1143.1M427.1,1156.7V1166.1M427.1,1179.6V1185.6" stroke="#e8101a" stroke-width="3.4" stroke-linecap="round" fill="none"/>
<path d="M108.2,10.6H537.1V356.2H108.2Z" fill="none" stroke="#000" stroke-width="2.4" stroke-linejoin="round"/>
<path d="M101.0,10.6H115.8M108.2,24.4H113.8M108.2,38.2H113.8M108.2,52.1H113.8M108.2,65.9H113.8M101.0,79.7H115.8M108.2,93.5H113.8M108.2,107.4H113.8M108.2,121.2H113.8M108.2,135.0H113.8M101.0,148.8H115.8M108.2,162.7H113.8M108.2,176.5H113.8M108.2,190.3H113.8M108.2,204.1H113.8M101.0,218.0H115.8M108.2,231.8H113.8M108.2,245.6H113.8M108.2,259.4H113.8M108.2,273.3H113.8M101.0,287.1H115.8M108.2,300.9H113.8M108.2,314.7H113.8M108.2,328.6H113.8M108.2,342.4H113.8M101.0,356.2H115.8M108.2,349.0V362.8M124.7,356.2V350.8M141.2,356.2V350.8M157.7,356.2V350.8M174.2,356.2V350.8M190.7,349.0V362.8M207.2,356.2V350.8M223.7,356.2V350.8M240.2,356.2V350.8M256.7,356.2V350.8M273.2,349.0V362.8M289.7,356.2V350.8M306.2,356.2V350.8M322.7,356.2V350.8M339.1,356.2V350.8M355.6,349.0V362.8M372.1,356.2V350.8M388.6,356.2V350.8M405.1,356.2V350.8M421.6,356.2V350.8M438.1,349.0V362.8M454.6,356.2V350.8M471.1,356.2V350.8M487.6,356.2V350.8M504.1,356.2V350.8M520.6,349.0V362.8" fill="none" stroke="#000" stroke-width="2.4"/>
<text x="86.7" y="19.4" text-anchor="end" class="t">200</text>
<text x="86.7" y="88.5" text-anchor="end" class="t">100</text>
<text x="86.7" y="157.6" text-anchor="end" class="t">0</text>
<text x="86.7" y="226.8" text-anchor="end" class="t">-100</text>
<text x="86.7" y="295.9" text-anchor="end" class="t">-200</text>
<text x="86.7" y="365.0" text-anchor="end" class="t">-300</text>
<text x="105.6" y="393.7" text-anchor="middle" class="t" textLength="35" lengthAdjust="spacingAndGlyphs">-1.1</text>
<text x="190.7" y="393.7" text-anchor="middle" class="t">-0.6</text>
<text x="273.2" y="393.7" text-anchor="middle" class="t">-0.1</text>
<text x="355.6" y="393.7" text-anchor="middle" class="t">0.4</text>
<text x="438.1" y="393.7" text-anchor="middle" class="t">0.9</text>
<text x="520.6" y="393.7" text-anchor="middle" class="t">1.4</text>
<path d="M107.1,426.5H536.4V771.8H107.1Z" fill="none" stroke="#000" stroke-width="2.4" stroke-linejoin="round"/>
<path d="M99.9,426.5H114.7M107.1,440.3H112.7M107.1,454.1H112.7M107.1,467.9H112.7M107.1,481.7H112.7M99.9,495.6H114.7M107.1,509.4H112.7M107.1,523.2H112.7M107.1,537.0H112.7M107.1,550.8H112.7M99.9,564.6H114.7M107.1,578.4H112.7M107.1,592.2H112.7M107.1,606.1H112.7M107.1,619.9H112.7M99.9,633.7H114.7M107.1,647.5H112.7M107.1,661.3H112.7M107.1,675.1H112.7M107.1,688.9H112.7M99.9,702.7H114.7M107.1,716.6H112.7M107.1,730.4H112.7M107.1,744.2H112.7M107.1,758.0H112.7M99.9,771.8H114.7M107.1,764.6V778.4M123.6,771.8V766.4M140.1,771.8V766.4M156.6,771.8V766.4M173.1,771.8V766.4M189.7,764.6V778.4M206.2,771.8V766.4M222.7,771.8V766.4M239.2,771.8V766.4M255.7,771.8V766.4M272.2,764.6V778.4M288.7,771.8V766.4M305.2,771.8V766.4M321.8,771.8V766.4M338.3,771.8V766.4M354.8,764.6V778.4M371.3,771.8V766.4M387.8,771.8V766.4M404.3,771.8V766.4M420.8,771.8V766.4M437.3,764.6V778.4M453.8,771.8V766.4M470.4,771.8V766.4M486.9,771.8V766.4M503.4,771.8V766.4M519.9,764.6V778.4" fill="none" stroke="#000" stroke-width="2.4"/>
<text x="85.4" y="435.3" text-anchor="end" class="t">200</text>
<text x="85.4" y="504.4" text-anchor="end" class="t">100</text>
<text x="85.4" y="573.4" text-anchor="end" class="t">0</text>
<text x="85.4" y="642.5" text-anchor="end" class="t">100</text>
<text x="85.4" y="711.5" text-anchor="end" class="t">200</text>
<text x="85.4" y="780.6" text-anchor="end" class="t">300</text>
<text x="104.5" y="809.3" text-anchor="middle" class="t" textLength="35" lengthAdjust="spacingAndGlyphs">-1.1</text>
<text x="189.7" y="809.3" text-anchor="middle" class="t">-0.6</text>
<text x="272.2" y="809.3" text-anchor="middle" class="t">-0.1</text>
<text x="354.8" y="809.3" text-anchor="middle" class="t">0.4</text>
<text x="437.3" y="809.3" text-anchor="middle" class="t">0.9</text>
<text x="519.9" y="809.3" text-anchor="middle" class="t">1.4</text>
<path d="M107.2,843.1H535.8V1187.3H107.2Z" fill="none" stroke="#000" stroke-width="2.4" stroke-linejoin="round"/>
<path d="M100.0,843.1H114.8M107.2,856.9H112.8M107.2,870.6H112.8M107.2,884.4H112.8M107.2,898.2H112.8M100.0,911.9H114.8M107.2,925.7H112.8M107.2,939.5H112.8M107.2,953.2H112.8M107.2,967.0H112.8M100.0,980.8H114.8M107.2,994.5H112.8M107.2,1008.3H112.8M107.2,1022.1H112.8M107.2,1035.9H112.8M100.0,1049.6H114.8M107.2,1063.4H112.8M107.2,1077.2H112.8M107.2,1090.9H112.8M107.2,1104.7H112.8M100.0,1118.5H114.8M107.2,1132.2H112.8M107.2,1146.0H112.8M107.2,1159.8H112.8M107.2,1173.5H112.8M100.0,1187.3H114.8M107.2,1180.1V1193.9M123.7,1187.3V1181.9M140.2,1187.3V1181.9M156.7,1187.3V1181.9M173.1,1187.3V1181.9M189.6,1180.1V1193.9M206.1,1187.3V1181.9M222.6,1187.3V1181.9M239.1,1187.3V1181.9M255.6,1187.3V1181.9M272.0,1180.1V1193.9M288.5,1187.3V1181.9M305.0,1187.3V1181.9M321.5,1187.3V1181.9M338.0,1187.3V1181.9M354.5,1180.1V1193.9M371.0,1187.3V1181.9M387.4,1187.3V1181.9M403.9,1187.3V1181.9M420.4,1187.3V1181.9M436.9,1180.1V1193.9M453.4,1187.3V1181.9M469.9,1187.3V1181.9M486.3,1187.3V1181.9M502.8,1187.3V1181.9M519.3,1180.1V1193.9" fill="none" stroke="#000" stroke-width="2.4"/>
<text x="85.8" y="851.9" text-anchor="end" class="t">200</text>
<text x="85.8" y="920.7" text-anchor="end" class="t">100</text>
<text x="85.8" y="989.6" text-anchor="end" class="t">0</text>
<text x="85.8" y="1058.4" text-anchor="end" class="t">-100</text>
<text x="85.8" y="1127.3" text-anchor="end" class="t">-200</text>
<text x="85.8" y="1196.1" text-anchor="end" class="t">-300</text>
<text x="104.6" y="1224.8" text-anchor="middle" class="t" textLength="35" lengthAdjust="spacingAndGlyphs">-1.1</text>
<text x="189.6" y="1224.8" text-anchor="middle" class="t">-0.6</text>
<text x="272.0" y="1224.8" text-anchor="middle" class="t">-0.1</text>
<text x="354.5" y="1224.8" text-anchor="middle" class="t">0.4</text>
<text x="436.9" y="1224.8" text-anchor="middle" class="t">0.9</text>
<text x="519.3" y="1224.8" text-anchor="middle" class="t">1.4</text>

<g fill="#000">
<circle cx="137.2" cy="38.0" r="9.3" fill="none" stroke="#000" stroke-width="6.4"/>
<rect x="144.9" y="25.4" width="6.3" height="25.2"/>
<circle cx="135.6" cy="452.1" r="9.9" fill="none" stroke="#000" stroke-width="6.3"/>
<rect x="122.2" y="431.1" width="6.3" height="34.0"/>
<path d="M148.2,864.6 A9.9,9.9 0 1 0 148.2,877.4" fill="none" stroke="#000" stroke-width="6.4"/>
</g>

<text x="320" y="1273.5" text-anchor="middle" class="ttl">Potential vs SHE, V</text>
<text transform="translate(24.3,734.4) rotate(-90)" class="ttl" style="font-size:26px" textLength="228.5" lengthAdjust="spacingAndGlyphs">Capacitance, F g</text>
<text transform="translate(16.6,503.8) rotate(-90)" class="ttl" style="font-size:17px">-1</text>
</svg></body></html>
